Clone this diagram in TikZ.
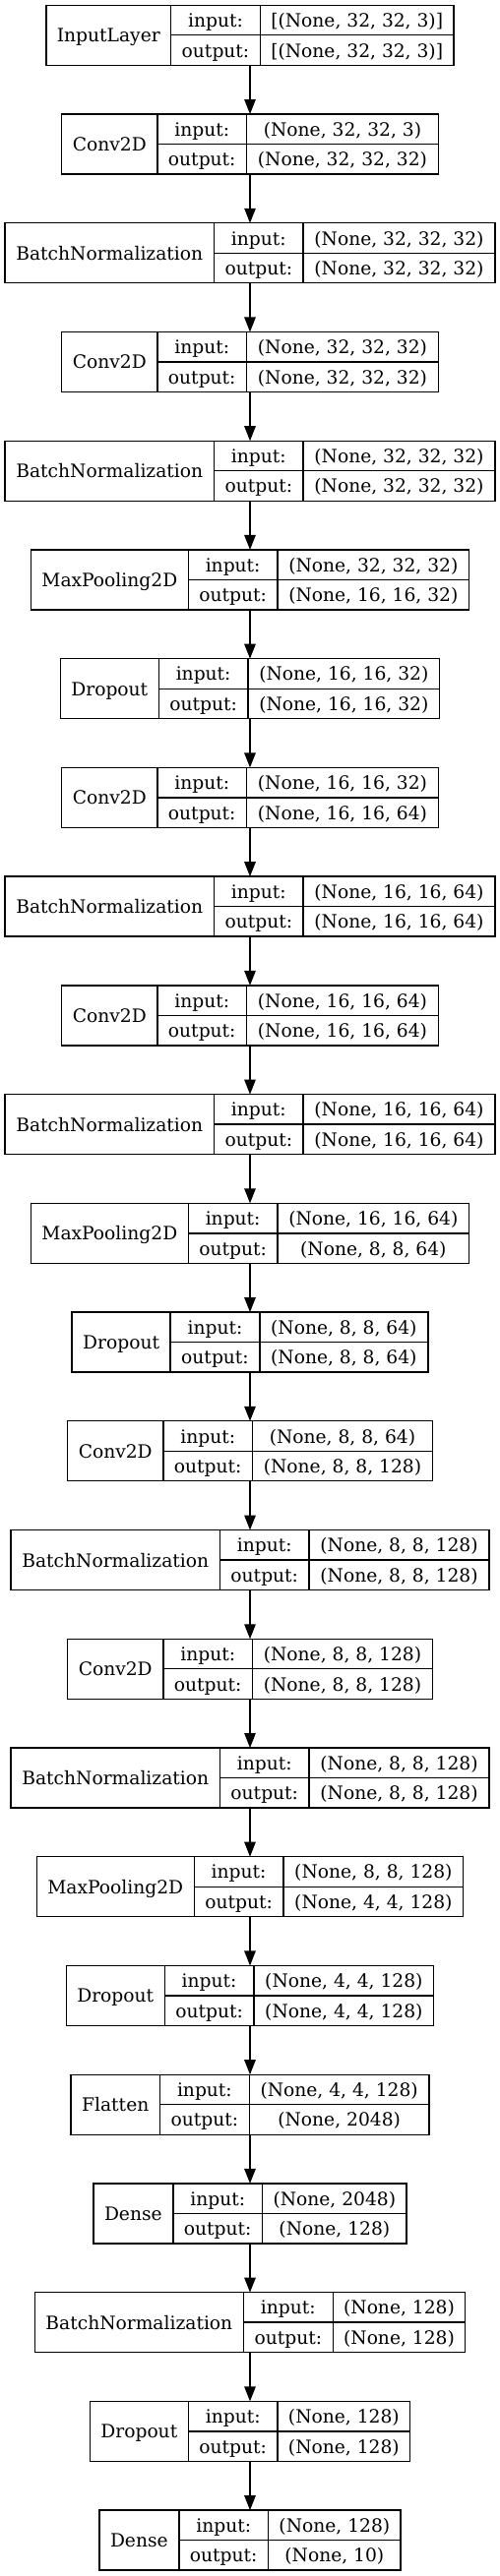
\documentclass[tikz,border=0pt]{standalone}
\usepackage{fontspec}
\setmainfont{DejaVu Serif}
\usetikzlibrary{arrows.meta}

\tikzset{
  cell/.style={draw, line width=1.33pt, outer sep=0pt, inner sep=0pt,
    font={\fontsize{18.67}{22}\selectfont}, text height=15.6pt, text depth=1.6pt},
  halfcell/.style={cell, minimum height=30.5pt},
  frame/.style={outer sep=0pt, inner sep=0pt, minimum height=61pt},
  link/.style={line width=1.33pt, -{Triangle[length=15pt, width=11.5pt]}}
}

% one layer: index, name, input shape, output shape, name width, shape width
\newcommand{\layerbox}[6]{%
  \pgfmathsetmacro{\boxw}{#5+90.7+#6}
  \pgfmathsetmacro{\boxy}{5.3+110.73*#1+30.5}
  \node[frame, minimum width=\boxw pt] (l#1) at (254, \boxy) {};
  \node[cell, minimum width=#5pt, minimum height=61pt, anchor=north west] (l#1-n) at (l#1.north west) {#2};
  \node[halfcell, minimum width=90.7pt, anchor=north west] (l#1-i) at (l#1-n.north east) {input:};
  \node[halfcell, minimum width=90.7pt, anchor=north west] (l#1-o) at (l#1-i.south west) {output:};
  \node[halfcell, minimum width=#6pt, anchor=north west] (l#1-vi) at (l#1-i.north east) {#3};
  \node[halfcell, minimum width=#6pt, anchor=north west] (l#1-vo) at (l#1-o.north east) {#4};
}

\begin{document}
\begin{tikzpicture}[x=1pt, y=-1pt]
  \useasboundingbox (0,0) rectangle (508,2619);

  \layerbox{0}{InputLayer}{[(None, 32, 32, 3)]}{[(None, 32, 32, 3)]}{126.7}{196.7}
  \layerbox{1}{Conv2D}{(None, 32, 32, 3)}{(None, 32, 32, 32)}{97.2}{194.7}
  \layerbox{2}{BatchNormalization}{(None, 32, 32, 32)}{(None, 32, 32, 32)}{212.3}{194.7}
  \layerbox{3}{Conv2D}{(None, 32, 32, 32)}{(None, 32, 32, 32)}{97.2}{194.7}
  \layerbox{4}{BatchNormalization}{(None, 32, 32, 32)}{(None, 32, 32, 32)}{212.3}{194.7}
  \layerbox{5}{MaxPooling2D}{(None, 32, 32, 32)}{(None, 16, 16, 32)}{160}{194.7}
  \layerbox{6}{Dropout}{(None, 16, 16, 32)}{(None, 16, 16, 32)}{100}{194.7}
  \layerbox{7}{Conv2D}{(None, 16, 16, 32)}{(None, 16, 16, 64)}{97.2}{194.7}
  \layerbox{8}{BatchNormalization}{(None, 16, 16, 64)}{(None, 16, 16, 64)}{212.3}{194.7}
  \layerbox{9}{Conv2D}{(None, 16, 16, 64)}{(None, 16, 16, 64)}{97.2}{194.7}
  \layerbox{10}{BatchNormalization}{(None, 16, 16, 64)}{(None, 16, 16, 64)}{212.3}{194.7}
  \layerbox{11}{MaxPooling2D}{(None, 16, 16, 64)}{(None, 8, 8, 64)}{160}{194.7}
  \layerbox{12}{Dropout}{(None, 8, 8, 64)}{(None, 8, 8, 64)}{100}{171}
  \layerbox{13}{Conv2D}{(None, 8, 8, 64)}{(None, 8, 8, 128)}{97.2}{182.8}
  \layerbox{14}{BatchNormalization}{(None, 8, 8, 128)}{(None, 8, 8, 128)}{212.3}{182.8}
  \layerbox{15}{Conv2D}{(None, 8, 8, 128)}{(None, 8, 8, 128)}{97.2}{182.8}
  \layerbox{16}{BatchNormalization}{(None, 8, 8, 128)}{(None, 8, 8, 128)}{212.3}{182.8}
  \layerbox{17}{MaxPooling2D}{(None, 8, 8, 128)}{(None, 4, 4, 128)}{160}{182.8}
  \layerbox{18}{Dropout}{(None, 4, 4, 128)}{(None, 4, 4, 128)}{100}{182.8}
  \layerbox{19}{Flatten}{(None, 4, 4, 128)}{(None, 2048)}{90.6}{182.8}
  \layerbox{20}{Dense}{(None, 2048)}{(None, 128)}{81}{146.6}
  \layerbox{21}{BatchNormalization}{(None, 128)}{(None, 128)}{212.3}{134.6}
  \layerbox{22}{Dropout}{(None, 128)}{(None, 128)}{100}{134.6}
  \layerbox{23}{Dense}{(None, 128)}{(None, 10)}{81}{134.6}

  % arrows between layers
  \foreach \a [count=\b from 1] in {0,...,22}
    \draw[link] (l\a.south) -- (l\b.north);
\end{tikzpicture}
\end{document}
